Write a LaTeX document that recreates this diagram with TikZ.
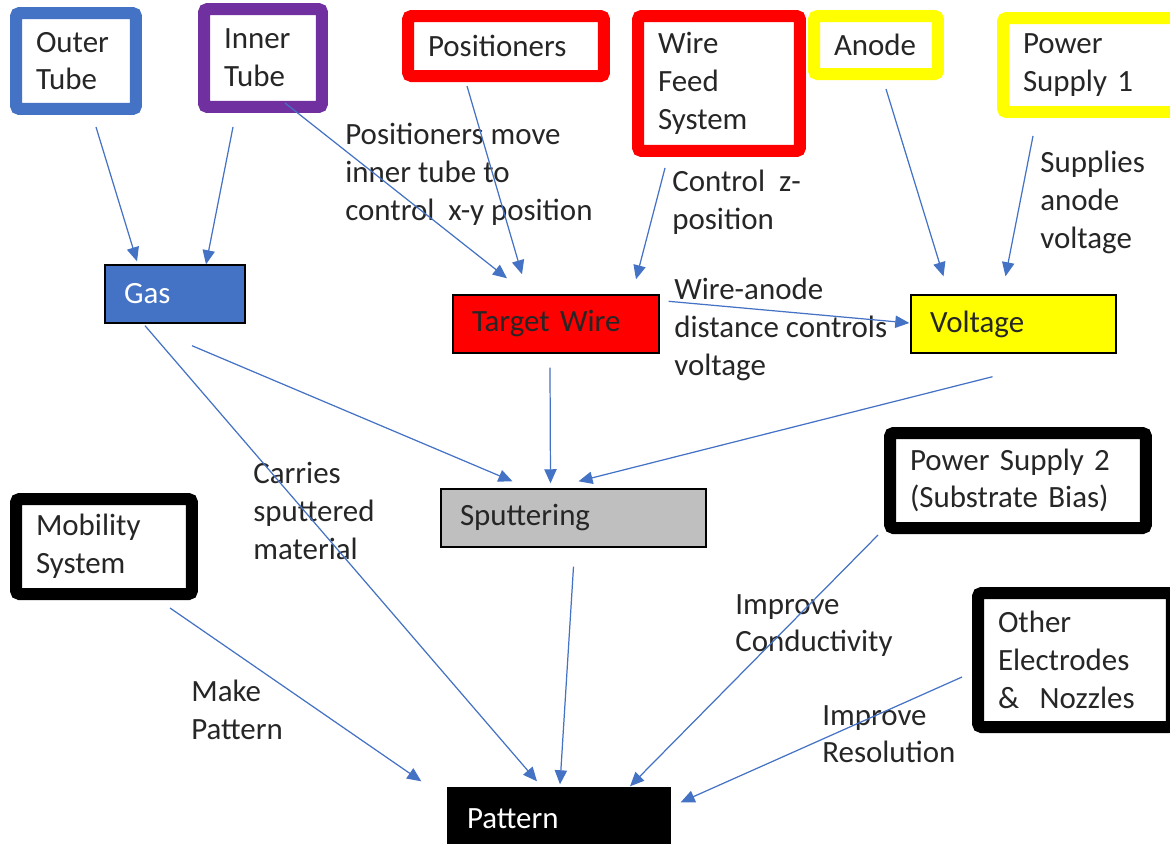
\documentclass[tikz,border=0pt]{standalone}
\usepackage{fontspec}
\setmainfont{Carlito}
\usetikzlibrary{arrows.meta, calc}
\definecolor{tubeblue}{RGB}{68,114,196}
\definecolor{tubepurple}{RGB}{112,48,160}
\definecolor{partred}{RGB}{255,0,0}
\definecolor{partyellow}{RGB}{255,255,0}
\definecolor{sputgray}{RGB}{191,191,191}
\definecolor{inktext}{RGB}{38,38,38}

\tikzset{
  frame/.style={draw=#1, line width=0.24cm, rounded corners=2pt, fill=white,
                align=left, inner xsep=0.4cm, inner ysep=0pt, text=inktext},
  stage/.style={draw=black, line width=0.8pt, fill=#1, align=left,
                inner xsep=0.38cm, inner ysep=0pt, minimum height=1.16cm},
  flow/.style={-{Triangle[length=8pt,width=7pt]}, draw=tubeblue, line width=0.7pt},
  note/.style={anchor=north west, align=left, inner sep=0pt, text=inktext}
}

\begin{document}
\begin{tikzpicture}[x=0.02cm, y=-0.02cm, font=\fontsize{17.6}{21.5}\selectfont]
  \useasboundingbox (0,0) rectangle (1170,843);
  \clip (0,0) rectangle (1170,843);

  % Sources along the top
  \node[frame=tubeblue, text width=1.6cm, minimum height=1.92cm] (outer) at (76,61) {Outer\\Tube};
  \node[frame=tubepurple, text width=1.56cm, minimum height=1.96cm] (inner) at (263,58) {Inner\\Tube};
  \node[frame=partred, text width=3.12cm, minimum height=1.2cm] (pos) at (506,46) {Positioners};
  \node[frame=partred, text width=2.44cm, minimum height=2.7cm] (feed) at (719,83.5) {Wire\\Feed\\System};
  \node[frame=partyellow, text width=1.68cm, minimum height=1.16cm] (anode) at (876,45) {Anode};
  \node[frame=partyellow, text width=2.8cm, minimum height=1.88cm] (psone) at (1093,65) {Power\\Supply 1};

  % Other inputs
  \node[frame=black, text width=2.72cm, minimum height=1.9cm] (mobility) at (104,546.5) {Mobility\\System};
  \node[frame=black, text width=4.32cm, minimum height=1.9cm] (pstwo) at (1018,480.5) {Power Supply 2\\(Substrate Bias)};
  \node[frame=black, text width=3.08cm, minimum height=2.68cm] (other) at (1075,660) {Other\\Electrodes\\\&~ Nozzles};

  % Process stages
  \node[stage=tubeblue, text=white, text width=2.04cm] (gas) at (175,294) {Gas};
  \node[stage=partred, text=inktext, text width=3.36cm] (target) at (556,324) {Target Wire};
  \node[stage=partyellow, text=inktext, text width=3.34cm] (voltage) at (1013.5,324) {Voltage};
  \node[stage=sputgray, text=inktext, text width=4.54cm] (sputter) at (573.5,518) {Sputtering};
  \node[stage=black, text=white, text width=3.68cm, minimum height=1.24cm] (pattern) at (559,819) {Pattern};

  % Edge notes
  \node[note] (n-xy) at (345,123) {Positioners move\\inner tube to\\control~ x-y position};
  \node[note] (n-z) at (672,170) {Control~ z-\\position};
  \node[note] (n-sup) at (1040,151) {Supplies\\anode\\voltage};
  \node[note] (n-dist) at (674,278) {Wire-anode\\distance controls\\voltage};
  \node[note] (n-carry) at (253,462) {Carries\\sputtered\\material};
  \node[note] (n-make) at (191,680) {Make\\Pattern};
  \node[note] (n-cond) at (735,594) {Improve\\Conductivity};
  \node[note] (n-res) at (822,705) {Improve\\Resolution};

  % Into gas, target wire and voltage
  \draw[flow] ($(outer.south)+(20,12)$) -- ($(gas.north)+(-38,-3)$);
  \draw[flow] ($(inner.south)+(-30,14)$) -- ($(gas.north)+(31,0)$);
  \draw[flow] ($(inner.south)+(22,-10)$) -- ($(target.north)+(-49,-16)$);
  \draw[flow] ($(pos.south)+(-39,4)$) -- ($(target.north)+(-34,-20)$);
  \draw[flow] ($(feed.south)+(-54,11)$) -- ($(target.north)+(80,-15)$);
  \draw[flow] ($(target.north east)+(9,7)$) -- ($(voltage.west)+(-1,-1)$);
  \draw[flow] ($(anode.south)+(10,9)$) -- ($(voltage.north)+(-70,-18)$);
  \draw[flow] ($(psone.south)+(-60,18)$) -- ($(voltage.north)+(-8,-18)$);

  % Into sputtering
  \draw[flow] ($(gas.south)+(17,22)$) -- ($(sputter.north)+(-61,-7)$);
  \draw[flow] ($(target.south)+(-6,14)$) -- ($(sputter.north)+(-23,-5)$);
  \draw[flow] ($(voltage.south)+(-21,23)$) -- ($(sputter.north)+(5,-7)$);

  % Into pattern
  \draw[flow] ($(gas.south)+(-30,2)$) -- ($(pattern.north)+(-22,-6)$);
  \draw[flow] ($(sputter.south)+(0,19)$) -- ($(pattern.north)+(1,-3)$);
  \draw[flow] ($(mobility.south)+(66,8)$) -- ($(pattern.north west)+(-26,-6)$);
  \draw[flow] ($(pstwo.south west)+(-6,1)$) -- ($(pattern.north)+(71,-1)$);
  \draw[flow] ($(other.west)+(-10,17)$) -- ($(pattern.north east)+(10,15)$);
\end{tikzpicture}
\end{document}
